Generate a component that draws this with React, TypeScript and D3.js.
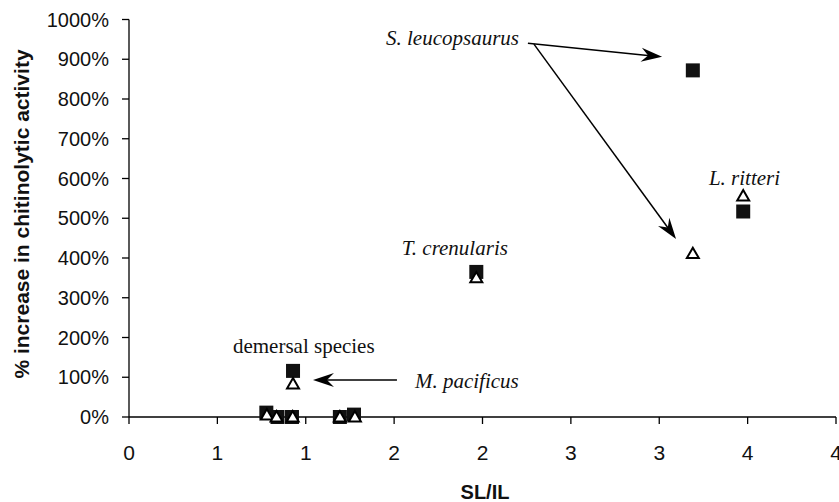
import React from "react";
import * as d3 from "d3";

const W = 839;
const H = 502;

// SL/IL ratio and % increase in chitinolytic activity
const squareX = [0.777, 0.84, 0.922, 1.193, 1.273, 0.928, 1.965, 3.19, 3.475];
const squareY = [11, 0, 0, 0, 6, 116, 365, 872, 517];
const triangleX = [0.78, 0.835, 0.926, 1.193, 1.278, 0.928, 1.965, 3.19, 3.475];
const triangleY = [5, 0, 0, 0, 0, 83, 350, 411, 556];

const xTicks = [0, 0.5, 1, 1.5, 2, 2.5, 3, 3.5, 4];
const yTicks = [0, 100, 200, 300, 400, 500, 600, 700, 800, 900, 1000];

const labels = [
  { text: "S. leucopsaurus", x: 1.454, y: 936, italic: true },
  { text: "L. ritteri", x: 3.281, y: 584, italic: true },
  { text: "T. crenularis", x: 1.543, y: 408, italic: true },
  { text: "demersal species", x: 0.588, y: 161, italic: false },
  { text: "M. pacificus", x: 1.618, y: 73, italic: true },
];

const arrows = [
  { x1: 2.257, y1: 940, x2: 3.016, y2: 906 },
  { x1: 2.291, y1: 938, x2: 3.095, y2: 448 },
  { x1: 1.516, y1: 93, x2: 1.041, y2: 93 },
];

export default function App() {
  const x = d3.scaleLinear().domain([0, 4]).range([129, 836]);
  const y = d3.scaleLinear().domain([0, 1000]).range([417, 19.5]);
  const sq = 14;
  const tri = d3.symbol().type(d3.symbolTriangle).size(62)();

  const arrowHead = (ax1: number, ay1: number, ax2: number, ay2: number) => {
    const ang = Math.atan2(ay2 - ay1, ax2 - ax1) * 180 / Math.PI;
    return (
      <path
        d="M0,0 L-21,-7 L-14,0 L-21,7 Z"
        fill="#000"
        transform={`translate(${ax2},${ay2}) rotate(${ang})`}
      />
    );
  };

  return (
    <svg width={W} height={H} style={{ position: "absolute", left: 0, top: 0, background: "#fff" }}>
      <rect width={W} height={H} fill="#fff" />
      {/* y axis */}
      <line x1={x(0)} x2={x(0)} y1={y(1000)} y2={y(0)} stroke="#000" strokeWidth={1.3} />
      {yTicks.map((t) => (
        <g key={"y" + t}>
          <line x1={x(0) - 7} x2={x(0)} y1={y(t)} y2={y(t)} stroke="#000" strokeWidth={1.3} />
          <text
            x={109}
            y={y(t)}
            textAnchor="end"
            dominantBaseline="central"
            fontFamily="Liberation Sans, Arial, sans-serif"
            fontSize={20}
            fill="#111"
          >
            {t + "%"}
          </text>
        </g>
      ))}
      {/* x axis */}
      <line x1={x(0)} x2={x(4)} y1={y(0)} y2={y(0)} stroke="#000" strokeWidth={1.3} />
      {xTicks.map((t) => (
        <g key={"x" + t}>
          <line x1={x(t)} x2={x(t)} y1={y(0)} y2={y(0) + 7} stroke="#000" strokeWidth={1.3} />
          <text
            x={x(t)}
            y={460}
            textAnchor="middle"
            fontFamily="Liberation Sans, Arial, sans-serif"
            fontSize={21}
            fill="#111"
          >
            {String(Math.round(t + 1e-9))}
          </text>
        </g>
      ))}
      {/* axis titles */}
      <text
        x={485}
        y={499}
        textAnchor="middle"
        fontFamily="Liberation Sans, Arial, sans-serif"
        fontWeight="bold"
        fontSize={20}
        fill="#111"
      >
        SL/IL
      </text>
      <text
        transform={`translate(29,${214}) rotate(-90)`}
        textAnchor="middle"
        fontFamily="Liberation Sans, Arial, sans-serif"
        fontWeight="bold"
        fontSize={21}
        fill="#111"
      >
        % increase in chitinolytic activity
      </text>

      {/* squares */}
      {squareX.map((v, i) => (
        <rect
          key={"s" + i}
          x={x(v) - sq / 2}
          y={y(squareY[i]) - sq / 2}
          width={sq}
          height={sq}
          fill="#111"
        />
      ))}
      {/* triangles */}
      {triangleX.map((v, i) => (
        <path
          key={"t" + i}
          d={tri as string}
          transform={`translate(${x(v)},${y(triangleY[i]) + 1})`}
          fill="#fff"
          stroke="#000"
          strokeWidth={2}
        />
      ))}

      {/* annotations */}
      {labels.map((l) => (
        <text
          key={l.text}
          x={x(l.x)}
          y={y(l.y)}
          fontFamily="Liberation Serif, Times New Roman, serif"
          fontStyle={l.italic ? "italic" : "normal"}
          fontSize={21}
          fill="#111"
        >
          {l.text}
        </text>
      ))}
      {arrows.map((a, i) => {
        const ax1 = x(a.x1), ay1 = y(a.y1), ax2 = x(a.x2), ay2 = y(a.y2);
        const ang = Math.atan2(ay2 - ay1, ax2 - ax1);
        return (
          <g key={"a" + i}>
            <line
              x1={ax1}
              y1={ay1}
              x2={ax2 - Math.cos(ang) * 12}
              y2={ay2 - Math.sin(ang) * 12}
              stroke="#000"
              strokeWidth={1.5}
            />
            {arrowHead(ax1, ay1, ax2, ay2)}
          </g>
        );
      })}
    </svg>
  );
}
